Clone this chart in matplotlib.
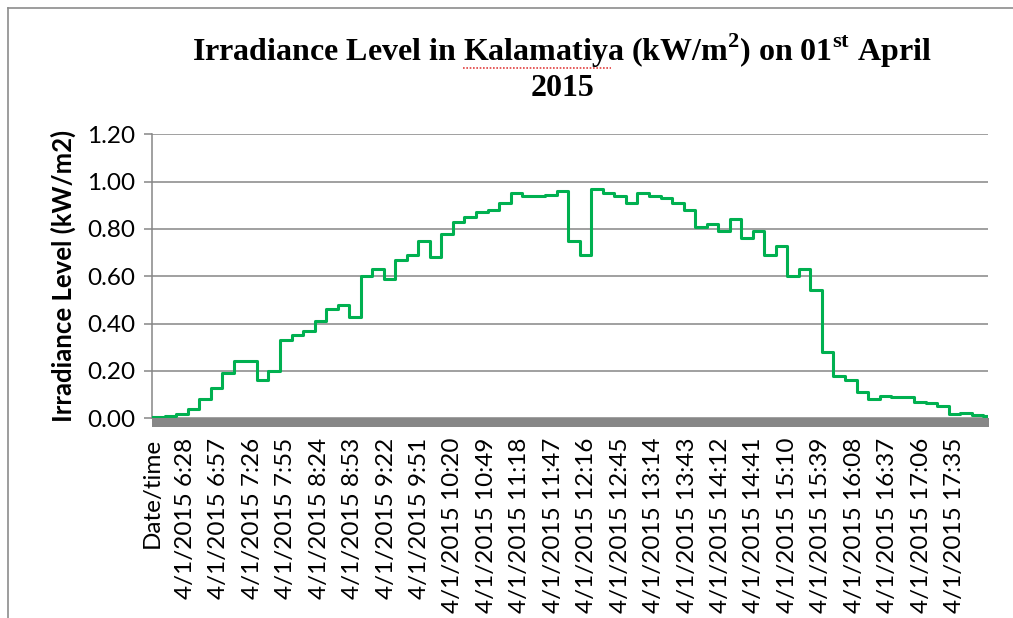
import matplotlib
matplotlib.use("Agg")
import matplotlib.pyplot as plt
import pandas as pd
from matplotlib.lines import Line2D
from matplotlib.patches import Rectangle
from matplotlib.transforms import blended_transform_factory

# 10-minute irradiance levels (kW/m2) from 6:00 to 18:00
level_start = "2015-04-01 06:00"
levels = [
    0.005, 0.01, 0.02, 0.04, 0.08, 0.13, 0.19, 0.24, 0.24, 0.16,
    0.20, 0.33, 0.35, 0.37, 0.41, 0.46, 0.48, 0.43, 0.60, 0.63,
    0.59, 0.67, 0.69, 0.75, 0.68, 0.78, 0.83, 0.85, 0.87, 0.88,
    0.91, 0.95, 0.94, 0.94, 0.945, 0.96, 0.75, 0.69, 0.97, 0.95,
    0.94, 0.91, 0.95, 0.94, 0.93, 0.91, 0.88, 0.81, 0.82, 0.79,
    0.84, 0.76, 0.79, 0.69, 0.73, 0.60, 0.63, 0.54, 0.28, 0.18,
    0.16, 0.11, 0.08, 0.095, 0.09, 0.09, 0.07, 0.065, 0.05, 0.017,
    0.022, 0.016, 0.008,
]
last_reading = "2015-04-01 18:04"
label_every = 29  # minutes between shown category labels
first_category = "Date/time"

GREEN = "#00B050"
GRID = "#868686"

plt.rcParams["font.family"] = "Lato"
plt.rcParams["mathtext.fontset"] = "custom"
plt.rcParams["mathtext.rm"] = "Liberation Serif:bold"
plt.rcParams["mathtext.bf"] = "Liberation Serif:bold"

t0 = pd.Timestamp(level_start)
step_times = pd.date_range(t0, periods=len(levels), freq="10min")
t_end = pd.Timestamp(last_reading)


def cat_index(t):
    # category 0 is the "Date/time" header, one category per minute after it
    return 1 + int((t - t0).total_seconds() // 60)


x = [cat_index(t) for t in step_times] + [cat_index(t_end)]
y = levels + [levels[-1]]

fig = plt.figure(figsize=(10.13, 6.18), dpi=100)
ax = fig.add_axes([152 / 1013, 1 - 418.3 / 618, 836 / 1013, 284 / 618])

ax.plot(x, y, drawstyle="steps-post", color=GREEN, linewidth=2.2, zorder=3)

ax.set_xlim(0, cat_index(t_end))
ax.set_ylim(0, 1.2)
ax.set_yticks([0, 0.2, 0.4, 0.6, 0.8, 1.0, 1.2])
ax.set_yticklabels([f"{v:.2f}" for v in ax.get_yticks()], fontsize=17.5)

tick_pos = list(range(0, cat_index(t_end), label_every))
tick_lab = []
for p in tick_pos:
    if p == 0:
        tick_lab.append(first_category)
    else:
        t = t0 + pd.Timedelta(minutes=p - 1)
        tick_lab.append(f"4/1/2015 {t.hour}:{t.minute:02d}")
ax.set_xticks(tick_pos)
ax.set_xticklabels(tick_lab, rotation=90, fontsize=17.5, va="top", ha="center")
ax.tick_params(axis="x", length=0, pad=14)
ax.tick_params(axis="y", length=6, width=1.1, color=GRID, pad=6, direction="out")

ax.grid(axis="y", color=GRID, linewidth=1.1)
ax.set_axisbelow(True)
for side in ("top", "right", "bottom"):
    ax.spines[side].set_visible(False)
ax.spines["left"].set_color(GRID)
ax.spines["left"].set_linewidth(1.1)

# thick horizontal axis band
trans = blended_transform_factory(ax.transAxes, ax.transAxes)
ax.add_patch(Rectangle((0, -9 / 284), 1.001, 9 / 284, transform=trans,
                       facecolor="#878787", edgecolor="none", clip_on=False, zorder=4))

ax.set_ylabel("Irradiance Level (kW/m2)", fontsize=18.5, fontweight="bold")
ax.yaxis.set_label_coords(-0.091, 0.5)

title1 = r"Irradiance Level in Kalamatiya (kW/m$^{\mathbf{2}}$) on 01$^{\mathbf{st}}$ April"
fig.text(562 / 1013, 1 - 51 / 618, title1, ha="center", va="center",
         fontsize=23, fontweight="bold", family="Liberation Serif")
fig.text(562 / 1013, 1 - 89 / 618, "2015", ha="center", va="center",
         fontsize=23, fontweight="bold", family="Liberation Serif")
# spell-check squiggle under "Kalamatiya"
fig.add_artist(Line2D([463 / 1013, 611 / 1013], [1 - 68 / 618, 1 - 68 / 618],
                      color="#e04040", linewidth=1.2, linestyle=(0, (1, 1))))

# chart frame
fig.add_artist(Line2D([8 / 1013, 8 / 1013], [0, 1 - 8 / 618], color="#8c8c8c", linewidth=1.2))
fig.add_artist(Line2D([8 / 1013, 1], [1 - 8 / 618, 1 - 8 / 618], color="#8c8c8c", linewidth=1.2))

fig.savefig("out.png", dpi=100, facecolor="white")
